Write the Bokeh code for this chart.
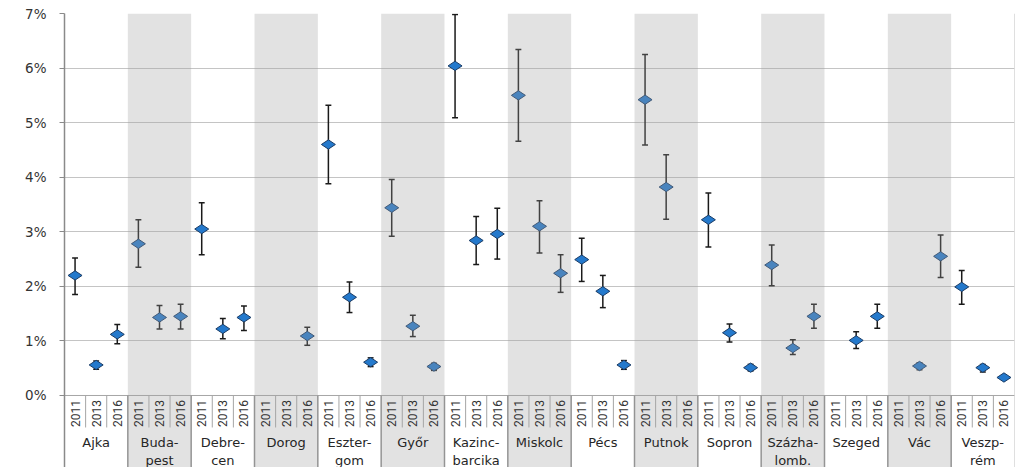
import math
from bokeh.plotting import figure
from bokeh.models import FixedTicker, ColumnDataSource
from bokeh.core.properties import value
from bokeh.embed import file_html
from bokeh.resources import INLINE

# ---------------- data ----------------
cities = ["Ajka", "Buda-\npest", "Debre-\ncen", "Dorog", "Eszter-\ngom", "Győr",
          "Kazinc-\nbarcika", "Miskolc", "Pécs", "Putnok", "Sopron", "Százha-\nlomb.",
          "Szeged", "Vác", "Veszp-\nrém"]
years = ["2011", "2013", "2016"]

val_2011 = [2.20, 2.78, 3.05, None, 4.60, 3.44, 6.04, 5.50, 2.49, 5.42, 3.22, 2.39, None, None, 1.99]
lo_2011  = [1.85, 2.35, 2.58, None, 3.88, 2.92, 5.09, 4.66, 2.09, 4.59, 2.72, 2.01, None, None, 1.67]
hi_2011  = [2.52, 3.22, 3.53, None, 5.32, 3.96, 6.98, 6.34, 2.88, 6.25, 3.71, 2.76, None, None, 2.29]

val_2013 = [0.56, 1.43, 1.22, None, 1.80, 1.27, 2.84, 3.10, 1.91, 3.82, 1.15, 0.87, 1.01, 0.54, 0.51]
lo_2013  = [0.48, 1.22, 1.04, None, 1.52, 1.08, 2.40, 2.61, 1.61, 3.23, 0.98, 0.75, 0.86, 0.47, 0.43]
hi_2013  = [0.63, 1.65, 1.41, None, 2.08, 1.47, 3.28, 3.57, 2.20, 4.41, 1.31, 1.02, 1.17, 0.60, 0.57]

val_2016 = [1.12, 1.45, 1.43, 1.09, 0.61, 0.53, 2.96, 2.24, 0.56, None, 0.51, 1.45, 1.45, 2.55, 0.33]
lo_2016  = [0.95, 1.22, 1.19, 0.92, 0.53, 0.46, 2.50, 1.89, 0.48, None, 0.45, 1.23, 1.23, 2.16, 0.30]
hi_2016  = [1.30, 1.67, 1.64, 1.25, 0.69, 0.59, 3.43, 2.58, 0.64, None, 0.57, 1.67, 1.67, 2.94, 0.36]

y_ticks = [0, 1, 2, 3, 4, 5, 6, 7]
y_tick_labels = ["0%", "1%", "2%", "3%", "4%", "5%", "6%", "7%"]

# ---------------- build sources ----------------
series = [(val_2011, lo_2011, hi_2011), (val_2013, lo_2013, hi_2013), (val_2016, lo_2016, hi_2016)]
n_groups = len(cities)
n_years = len(years)
n_slots = n_groups * n_years

xs, vs, los, his = [], [], [], []
for g in range(n_groups):
    for k, (v, lo, hi) in enumerate(series):
        if v[g] is not None:
            xs.append(g * n_years + k + 0.5)
            vs.append(v[g]); los.append(lo[g]); his.append(hi[g])
CAP = 0.14
pts = ColumnDataSource(dict(x=xs, v=vs, lo=los, hi=his,
                            xl=[x - CAP for x in xs], xr=[x + CAP for x in xs]))

Y_MAX = 7.0
Y_MIN = -1.3195
Y_YEAR = -0.33
Y_YEAR_SEP = -0.586
Y_GROUP = -0.73

p = figure(width=1023, height=467, x_range=(0, n_slots), y_range=(Y_MIN, Y_MAX),
           output_backend="svg", toolbar_location=None, x_axis_location=None,
           min_border_left=64, min_border_right=9, min_border_top=13, min_border_bottom=0)
p.background_fill_color = "white"
p.border_fill_color = "white"
p.outline_line_color = None

p.xgrid.visible = False
p.ygrid.ticker = FixedTicker(ticks=y_ticks)
p.ygrid.grid_line_color = "#c4c4c4"
p.ygrid.grid_line_width = 1

ax = p.yaxis[0]
ax.ticker = FixedTicker(ticks=y_ticks)
ax.major_label_overrides = {t: s for t, s in zip(y_ticks, y_tick_labels)}
ax.axis_line_color = "#8a8a8a"
ax.axis_line_width = 1.5
ax.major_tick_line_color = "#8a8a8a"
ax.major_tick_out = 5
ax.major_tick_in = 0
ax.minor_tick_line_color = None
ax.major_label_standoff = 13
ax.major_label_text_font = "DejaVu Sans"
ax.major_label_text_font_size = "13.5px"
ax.major_label_text_color = "#333333"

# error bars
p.segment(x0="x", y0="lo", x1="x", y1="hi", source=pts, line_color="#1a1a1a", line_width=1.5)
p.segment(x0="xl", y0="hi", x1="xr", y1="hi", source=pts, line_color="#1a1a1a", line_width=1.5)
p.segment(x0="xl", y0="lo", x1="xr", y1="lo", source=pts, line_color="#1a1a1a", line_width=1.5)

# markers
p.scatter(x="x", y="v", source=pts, marker="diamond", size=14, angle=math.pi / 2,
          fill_color="#2479cc", line_color="#1c3d66", line_width=1)

# translucent grey bands over alternate groups
band_left = [g * n_years for g in range(n_groups) if g % 2 == 1]
p.quad(left=band_left, right=[b + n_years for b in band_left],
       bottom=Y_MIN, top=Y_MAX, fill_color="#a0a0a0", fill_alpha=0.3, line_alpha=0)

# right border of plot area
p.segment(x0=[n_slots], y0=[Y_MIN], x1=[n_slots], y1=[Y_MAX], line_color="#c0c0c0", line_width=1)

# category axis
p.segment(x0=[0], y0=[0], x1=[n_slots], y1=[0], line_color="#a6a6a6", line_width=1)
year_sep = [k for k in range(1, n_slots) if k % n_years != 0]
p.segment(x0=year_sep, y0=0, x1=year_sep, y1=Y_YEAR_SEP, line_color="#a6a6a6", line_width=1)
group_sep = [k for k in range(n_years, n_slots, n_years)]
p.segment(x0=group_sep, y0=0, x1=group_sep, y1=Y_MIN, line_color="#949494", line_width=1.5)

year_src = ColumnDataSource(dict(x=[s + 0.5 for s in range(n_slots)],
                                 t=[years[s % n_years] for s in range(n_slots)]))
p.text(x="x", y=Y_YEAR, text="t", source=year_src, angle=math.pi / 2,
       text_align="center", text_baseline="middle", text_font=value("Roboto"),
       text_font_size="12px", text_color="#333333")

group_src = ColumnDataSource(dict(x=[g * n_years + n_years / 2 for g in range(n_groups)], t=cities))
p.text(x="x", y=Y_GROUP, text="t", source=group_src, text_align="center", text_baseline="top",
       text_font=value("DejaVu Sans"), text_font_size="13px", text_color="#262626",
       text_line_height=1.15)

open("out.html", "w").write(file_html(p, INLINE))
